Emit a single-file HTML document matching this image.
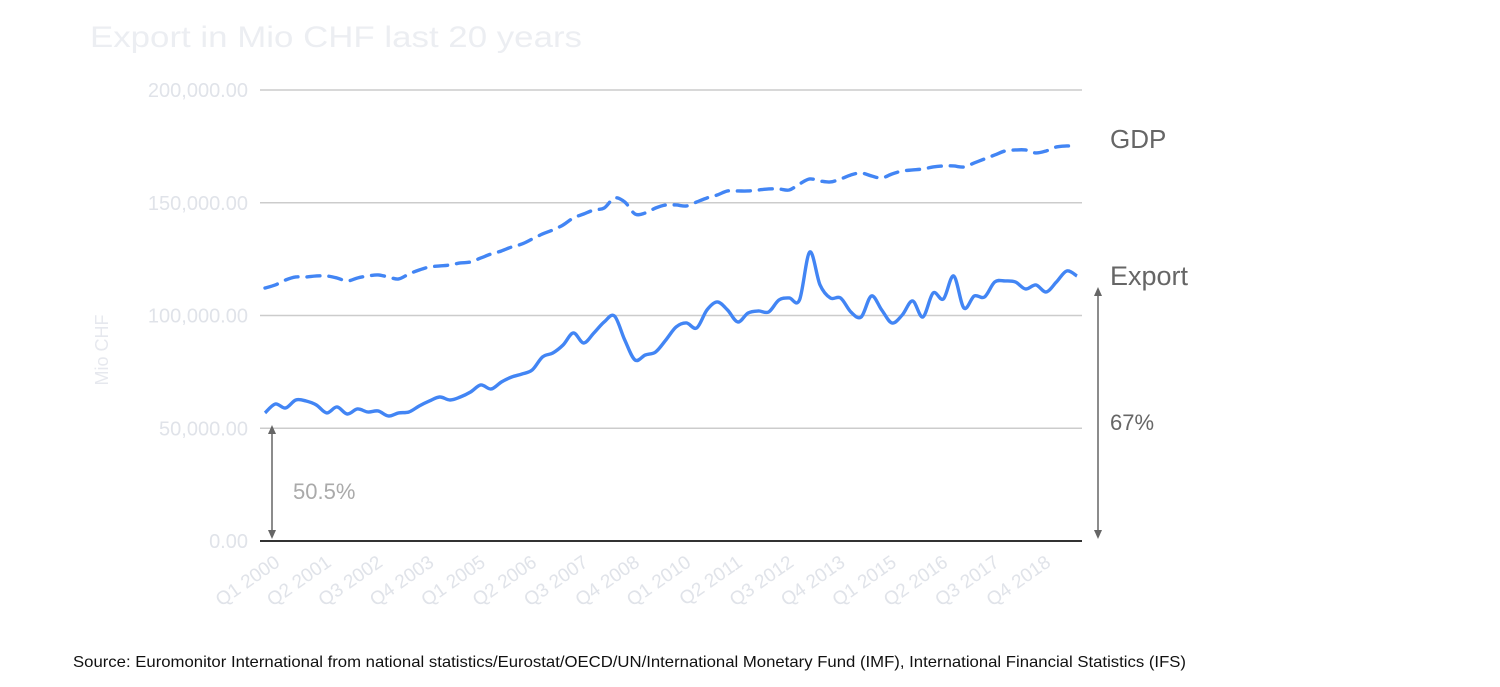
<!DOCTYPE html>
<html><head><meta charset="utf-8"><style>
html,body{margin:0;padding:0;background:#fff;}
svg{display:block;font-family:"Liberation Sans",sans-serif;}
</style></head><body>
<svg id="chart" width="1500" height="687" viewBox="0 0 1500 687">
<text x="90" y="47" font-size="30" textLength="492" lengthAdjust="spacingAndGlyphs" fill="#eceef2">Export in Mio CHF last 20 years</text>
<g id="grid"></g>
<g id="yticks"></g>
<text transform="translate(108,350) rotate(-90)" text-anchor="middle" font-size="18" fill="#e6e8ee">Mio CHF</text>
<g id="xticks"></g>
<g id="series"></g>
<text x="1110" y="148" font-size="26" fill="#666">GDP</text>
<text x="1110" y="285" font-size="27" fill="#666">Export</text>
<text x="1110" y="430" font-size="22" fill="#666">67%</text>
<text x="293" y="499" font-size="22" fill="#aaa">50.5%</text>
<g stroke="#666" stroke-width="1.5" fill="#666">
<line x1="1098" y1="294" x2="1098" y2="533"/>
<path d="M1094,296 L1098,287 L1102,296Z" stroke="none"/>
<path d="M1094,530 L1098,539 L1102,530Z" stroke="none"/>
</g>
<g stroke="#666" stroke-width="1.5" fill="#666">
<line x1="272" y1="432" x2="272" y2="533"/>
<path d="M268,434 L272,425 L276,434Z" stroke="none"/>
<path d="M268,530 L272,539 L276,530Z" stroke="none"/>
</g>
<text x="73" y="667" font-size="16" textLength="1113" lengthAdjust="spacingAndGlyphs" fill="#111">Source: Euromonitor International from national statistics/Eurostat/OECD/UN/International Monetary Fund (IMF), International Financial Statistics (IFS)</text>
</svg>
<script>
const exportValues=[56800,60760,58990,62530,62090,60320,56800,59430,56320,58540,57210,57660,55440,56800,57210,59870,62090,63860,62530,63860,66080,69190,67410,70520,72730,74060,75840,81600,83380,86930,92250,87810,92250,97130,99790,89140,80270,82490,83820,89140,94910,96680,94470,102450,106000,102450,97130,101120,102000,101560,106880,107770,106880,128170,113540,107770,107770,101560,99340,108660,102450,96680,100230,106440,99340,109990,107320,117530,103330,108660,108210,114870,115310,114870,111760,113540,110430,114870,119740,117530];
const gdpValues=[112200,113540,115750,117080,117080,117530,117530,116640,115310,116640,117530,117970,117080,116200,118410,120190,121520,121960,122410,123290,123730,125510,127280,128620,130390,131720,133930,136150,137930,140140,143250,145020,146800,147680,152120,150340,145020,145460,147680,149010,149010,148570,150340,152120,153450,155230,155230,155230,155660,156110,156110,155660,158330,160540,159660,159210,160540,162320,163200,161880,160990,162770,164100,164530,164980,165870,166310,166310,165870,167640,169420,171190,172970,173400,173400,172080,172970,174740,175180,175180];
const yTicks=[0,50000,100000,150000,200000];
const yTickLabels=["0.00","50,000.00","100,000.00","150,000.00","200,000.00"];
const xTickLabels=["Q1 2000","Q2 2001","Q3 2002","Q4 2003","Q1 2005","Q2 2006","Q3 2007","Q4 2008","Q1 2010","Q2 2011","Q3 2012","Q4 2013","Q1 2015","Q2 2016","Q3 2017","Q4 2018"];
const xTickStep=5;

const NS="http://www.w3.org/2000/svg";
const x0=265,x1=1077,y0=541,y1=90,yMax=200000;
const n=exportValues.length;
function xs(i){return x0+i*(x1-x0)/(n-1);}
function ys(v){return y0-(v/yMax)*(y0-y1);}
function mk(tag,attrs,parent){const e=document.createElementNS(NS,tag);for(const k in attrs)e.setAttribute(k,attrs[k]);parent.appendChild(e);return e;}

const grid=document.getElementById('grid'),yt=document.getElementById('yticks'),xt=document.getElementById('xticks'),ser=document.getElementById('series');
yTicks.forEach((v,k)=>{
  const l=mk('line',{x1:260,x2:1082,y1:ys(v),y2:ys(v),stroke:v===0?'#333':'#ccc','stroke-width':v===0?2:1.5},grid);
  
  
  const t=mk('text',{x:248,y:ys(v)+7,'text-anchor':'end','font-size':20,fill:'#e0e3e9'},yt);
  
  
  t.textContent=yTickLabels[k];
});
xTickLabels.forEach((s,k)=>{
  const x=xs(k*xTickStep)+16,y=y0+24;
  const t=mk('text',{x:x,y:y,'text-anchor':'end','font-size':19,fill:'#e0e3e9',transform:`rotate(-35 ${x} ${y})`},xt);
  
  
  t.textContent=s;
});
function smoothPath(vals){
  const p=vals.map((v,i)=>[xs(i),ys(v)]);
  let d=`M${p[0][0]},${p[0][1]}`;
  for(let i=0;i<p.length-1;i++){
    const a=p[Math.max(0,i-1)],b=p[i],c=p[i+1],e=p[Math.min(p.length-1,i+2)];
    const c1x=b[0]+(c[0]-a[0])/6,c1y=b[1]+(c[1]-a[1])/6,c2x=c[0]-(e[0]-b[0])/6,c2y=c[1]-(e[1]-b[1])/6;
    d+=` C${c1x},${c1y} ${c2x},${c2y} ${c[0]},${c[1]}`;
  }
  return d;
}
const g=mk('path',{d:smoothPath(gdpValues),fill:'none',stroke:'#4285f4','stroke-width':3.4,'stroke-dasharray':'13 9','stroke-linecap':'round'},ser);


const ex=mk('path',{d:smoothPath(exportValues),fill:'none',stroke:'#4285f4','stroke-width':3.4,'stroke-linejoin':'round'},ser);


</script>
</body></html>
